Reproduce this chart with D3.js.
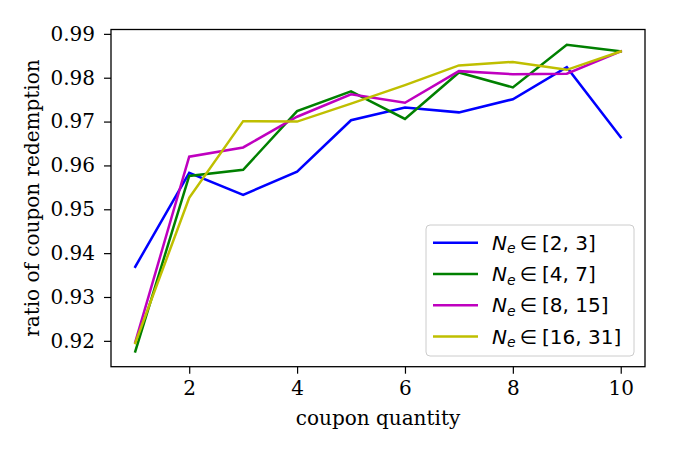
<!DOCTYPE html>
<html><head><meta charset="utf-8">
<script src="https://cdn.jsdelivr.net/npm/d3@7"></script>
<style>body{margin:0;background:#fff}svg{display:block}</style>
</head><body><svg id="c" width="675" height="450"></svg>
<script>
const quantities = [1,2,3,4,5,6,7,8,9,10];
const seriesNames = ["[2, 3]","[4, 7]","[8, 15]","[16, 31]"];
const seriesColors = ["#0000ff","#008000","#bf00bf","#bfbf00"];
const s1 = [0.9369,0.9583,0.9533,0.9586,0.9703,0.9732,0.9721,0.9751,0.9824,0.9664];
const s2 = [0.9176,0.9576,0.9590,0.9724,0.9769,0.9706,0.9812,0.9778,0.9875,0.9860];
const s3 = [0.9197,0.9620,0.9641,0.9711,0.9762,0.9743,0.9815,0.9808,0.9809,0.9860];
const s4 = [0.9195,0.9526,0.9701,0.9700,0.9741,0.9783,0.9828,0.9836,0.9818,0.9860];
const seriesValues = [s1,s2,s3,s4];
const xTicks = [2,4,6,8,10];
const yTicks = [0.92,0.93,0.94,0.95,0.96,0.97,0.98,0.99];

const svg = d3.select("#c");
const L=111, R=645, T=29.5, B=366.7;
const allV = seriesValues.flat();
const vmin=d3.min(allV), vmax=d3.max(allV), pad=(vmax-vmin)*0.05;
const x = d3.scaleLinear().domain([0.55,10.45]).range([L,R]);
const y = d3.scaleLinear().domain([vmin-pad,vmax+pad]).range([B,T]);
const serif = "'DejaVu Serif', serif";
const FS = 20;

const xa = svg.append("g").attr("transform",`translate(0,${B})`)
  .call(d3.axisBottom(x).tickValues(xTicks).tickSize(7).tickPadding(7).tickFormat(d3.format("d")));
const ya = svg.append("g").attr("transform",`translate(${L},0)`)
  .call(d3.axisLeft(y).tickValues(yTicks).tickSize(7).tickPadding(9).tickFormat(d3.format(".2f")));
[xa,ya].forEach(a=>{
  a.select(".domain").remove();
  a.selectAll(".tick line").attr("stroke","#000").attr("stroke-width",1.2);
  a.selectAll(".tick text").attr("font-family",serif).attr("font-size",FS).attr("fill","#000");
});

const line = d3.line().x((d,i)=>x(quantities[i])).y(d=>y(d));
seriesValues.forEach((vals,k)=>{
  svg.append("path").datum(vals).attr("d",line).attr("fill","none")
    .attr("stroke",seriesColors[k]).attr("stroke-width",2.5).attr("stroke-linejoin","miter").attr("stroke-linecap","square");
});

svg.append("rect").attr("x",L).attr("y",T).attr("width",R-L).attr("height",B-T)
  .attr("fill","none").attr("stroke","#000").attr("stroke-width",1.3);

svg.append("text").attr("x",(L+R)/2).attr("y",425).attr("text-anchor","middle")
  .attr("font-family",serif).attr("font-size",FS).text("coupon quantity");
svg.append("text").attr("transform",`translate(38.5,${(T+B)/2}) rotate(-90)`).attr("text-anchor","middle")
  .attr("font-family",serif).attr("font-size",FS).text("ratio of coupon redemption");

// legend
const lg = svg.append("g");
lg.append("rect").attr("x",426).attr("y",225).attr("width",208).attr("height",131).attr("rx",4)
  .attr("fill","#fff").attr("fill-opacity",0.8).attr("stroke","#cccccc").attr("stroke-width",1);
seriesNames.forEach((nm,k)=>{
  const yy = 242.7 + k*31.3;
  lg.append("line").attr("x1",433).attr("x2",478).attr("y1",yy).attr("y2",yy)
    .attr("stroke",seriesColors[k]).attr("stroke-width",2.5);
  const t = lg.append("text").attr("x",492).attr("y",yy+7).attr("font-family","'DejaVu Sans', sans-serif").attr("font-size",FS);
  t.append("tspan").attr("font-style","italic").text("N");
  t.append("tspan").attr("font-style","italic").attr("font-size",14).attr("dy",3.5).text("e");
  t.append("tspan").attr("dy",-3.5).attr("dx",4).text("\u2208");
  t.append("tspan").attr("dx",5).text(nm);
});
</script></body></html>
